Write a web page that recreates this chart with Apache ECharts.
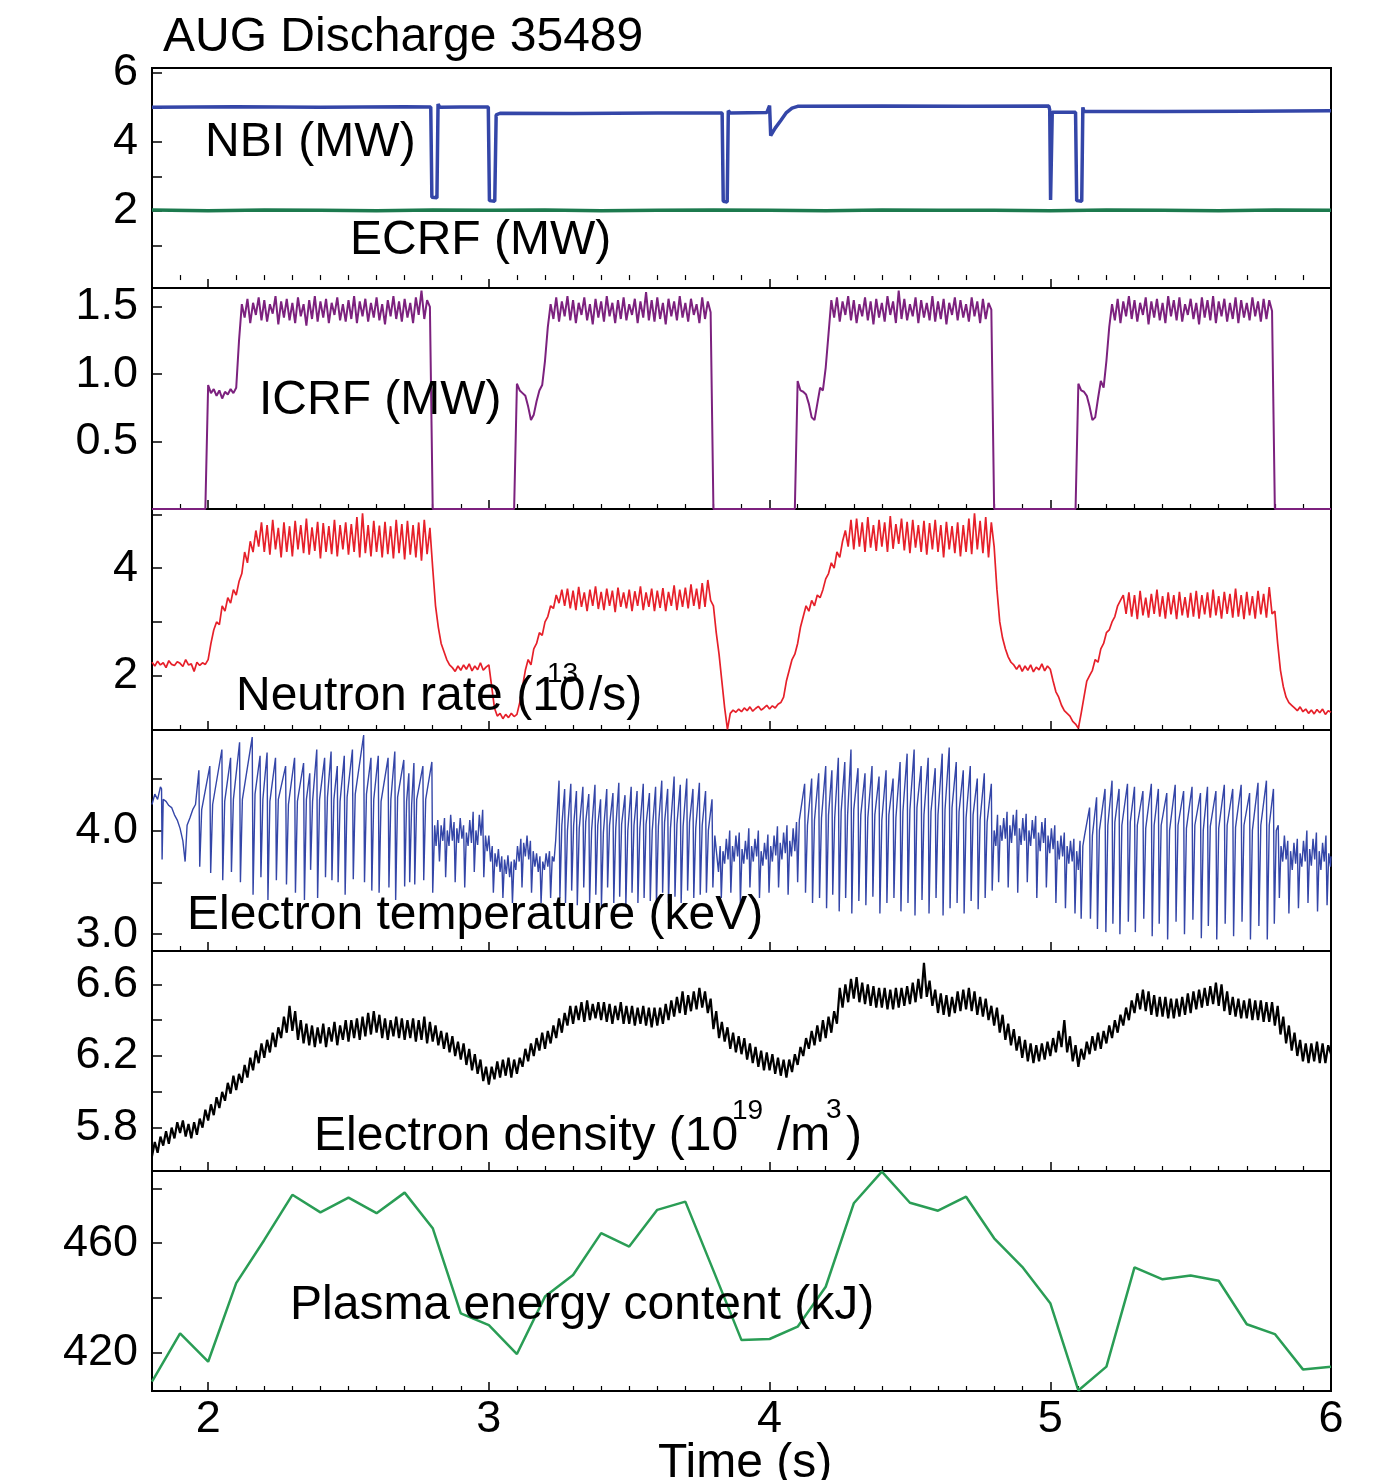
<!DOCTYPE html>
<html><head><meta charset="utf-8">
<script src="https://cdn.jsdelivr.net/npm/echarts@6/dist/echarts.min.js"></script>
<style>html,body{margin:0;padding:0;background:#fff}#c{width:1393px;height:1480px}</style>
</head><body><div id="c"></div><script>
// ---------- axes / ticks ----------
const TIME_MIN = 1.8, TIME_MAX = 6.0;
const TIME_TICKS = [2, 3, 4, 5, 6];
const TIME_MINOR = [1.9,2.1,2.2,2.3,2.4,2.5,2.6,2.7,2.8,2.9,3.1,3.2,3.3,3.4,3.5,3.6,3.7,3.8,3.9,4.1,4.2,4.3,4.4,4.5,4.6,4.7,4.8,4.9,5.1,5.2,5.3,5.4,5.5,5.6,5.7,5.8,5.9];
const NBI_TICKS = [1,2,3,4,5,6], NBI_LABELS = [2,4,6];
const ICRF_TICKS = [0.5,1.0,1.5], ICRF_LABELS = [0.5,1.0,1.5];
const NEUT_TICKS = [2,3,4,5], NEUT_LABELS = [2,4];
const TE_TICKS = [3.0,3.5,4.0,4.5], TE_LABELS = [3.0,4.0];
const NE_TICKS = [5.8,6.0,6.2,6.4,6.6], NE_LABELS = [5.8,6.2,6.6];
const W_TICKS = [420,440,460,480], W_LABELS = [420,460];

// ---------- heating powers ----------
const nbi = [[1.80,5.00],[2.10,5.02],[2.40,5.00],[2.70,5.02],[2.793,5.01],[2.797,2.40],[2.815,2.38],[2.819,5.10],[2.825,5.00],[2.90,5.01],[2.998,5.01],[3.002,2.30],[3.021,2.28],[3.026,4.78],[3.04,4.83],[3.30,4.82],[3.60,4.84],[3.831,4.84],[3.835,2.28],[3.849,2.26],[3.853,4.90],[3.86,4.84],[3.99,4.85],[4.000,5.05],[4.004,4.18],[4.02,4.40],[4.04,4.62],[4.06,4.85],[4.08,4.98],[4.10,5.03],[4.40,5.04],[4.70,5.03],[4.995,5.04],[4.998,4.92],[5.001,2.32],[5.004,2.32],[5.007,4.86],[5.09,4.86],[5.094,2.30],[5.112,2.28],[5.116,5.00],[5.12,4.88],[5.40,4.88],[5.70,4.89],[6.00,4.90]];
const ecrf = [[1.8,2.03],[2.0,2.01],[2.2,2.03],[2.4,2.02],[2.6,2.01],[2.8,2.03],[3.0,2.02],[3.2,2.03],[3.4,2.01],[3.6,2.02],[3.8,2.03],[4.0,2.02],[4.2,2.01],[4.4,2.03],[4.6,2.02],[4.8,2.02],[5.0,2.01],[5.2,2.03],[5.4,2.02],[5.6,2.01],[5.8,2.03],[6.0,2.02]];

// dense signals sampled every 0.01 s from 1.80 s
const DENSE_T0 = 1.8, DENSE_DT = 0.01;
const icrf = [
0,0,0,0,0,0,0,0,0,0,
0,0,0,0,0,0,0,0,0,0,
0.92,0.86,0.89,0.84,0.88,0.82,0.87,0.85,0.89,0.86,
0.90,1.25,1.52,1.42,1.56,1.38,1.53,1.44,1.57,1.40,
1.55,1.39,1.52,1.45,1.58,1.37,1.54,1.42,1.56,1.40,
1.53,1.38,1.57,1.43,1.52,1.36,1.55,1.41,1.58,1.39,
1.54,1.42,1.56,1.38,1.53,1.44,1.57,1.40,1.52,1.39,
1.55,1.41,1.58,1.38,1.54,1.43,1.56,1.39,1.53,1.42,
1.57,1.40,1.52,1.37,1.55,1.43,1.58,1.41,1.54,1.39,
1.56,1.42,1.53,1.38,1.57,1.44,1.62,1.41,1.55,1.50,
0,0,0,0,0,0,0,0,0,0,
0,0,0,0,0,0,0,0,0,0,
0,0,0,0,0,0,0,0,0,0,
0.93,0.88,0.86,0.84,0.76,0.66,0.70,0.80,0.88,0.92,
1.10,1.35,1.52,1.41,1.57,1.39,1.54,1.43,1.58,1.40,
1.55,1.38,1.53,1.44,1.57,1.40,1.52,1.37,1.56,1.42,
1.54,1.39,1.58,1.43,1.53,1.38,1.55,1.41,1.57,1.40,
1.52,1.44,1.56,1.38,1.54,1.42,1.61,1.40,1.55,1.39,
1.57,1.41,1.53,1.37,1.56,1.43,1.54,1.40,1.58,1.42,
1.53,1.39,1.56,1.44,1.52,1.38,1.57,1.41,1.54,1.46,
0,0,0,0,0,0,0,0,0,0,
0,0,0,0,0,0,0,0,0,0,
0,0,0,0,0,0,0,0,0,0,
0.95,0.88,0.87,0.85,0.78,0.68,0.66,0.78,0.90,0.88,
1.05,1.30,1.55,1.42,1.57,1.39,1.54,1.44,1.58,1.40,
1.55,1.38,1.52,1.43,1.57,1.40,1.54,1.37,1.56,1.42,
1.53,1.39,1.58,1.44,1.54,1.38,1.62,1.41,1.56,1.40,
1.52,1.43,1.57,1.38,1.55,1.42,1.53,1.40,1.58,1.39,
1.54,1.41,1.56,1.37,1.53,1.44,1.57,1.40,1.55,1.42,
1.52,1.39,1.57,1.43,1.54,1.38,1.56,1.41,1.53,1.48,
0,0,0,0,0,0,0,0,0,0,
0,0,0,0,0,0,0,0,0,0,
0,0,0,0,0,0,0,0,0,0,
0.93,0.88,0.87,0.84,0.76,0.66,0.68,0.82,0.95,0.90,
1.10,1.35,1.52,1.40,1.56,1.38,1.54,1.43,1.58,1.41,
1.55,1.39,1.53,1.44,1.57,1.37,1.54,1.42,1.56,1.40,
1.53,1.38,1.58,1.43,1.55,1.40,1.57,1.39,1.52,1.44,
1.56,1.41,1.53,1.37,1.57,1.42,1.55,1.40,1.58,1.38,
1.54,1.43,1.56,1.39,1.53,1.41,1.57,1.38,1.55,1.42,
1.53,1.40,1.57,1.43,1.54,1.39,1.56,1.41,1.55,1.47,
0,0,0,0,0,0,0,0,0,0,
0,0,0,0,0,0,0,0,0,0,
0];

const neutron = [
2.25,2.18,2.27,2.20,2.24,2.15,2.28,2.21,2.19,2.26,
2.23,2.17,2.30,2.20,2.22,2.08,2.25,2.19,2.24,2.21,
2.30,2.60,2.85,3.00,2.95,3.30,3.20,3.45,3.35,3.60,
3.50,3.75,3.90,4.30,4.10,4.50,4.30,4.70,4.40,4.85,
4.30,4.80,4.25,4.90,4.35,4.75,4.20,4.85,4.30,4.78,
4.22,4.88,4.35,4.80,4.28,4.92,4.25,4.76,4.32,4.86,
4.18,4.84,4.30,4.78,4.26,4.90,4.22,4.80,4.35,4.85,
4.25,4.82,4.30,4.95,4.20,5.02,4.28,4.80,4.22,4.88,
4.30,4.79,4.20,4.86,4.26,4.78,4.18,4.90,4.28,4.82,
4.16,4.88,4.25,4.80,4.20,4.85,4.14,4.90,4.26,4.75,
4.00,3.30,2.90,2.60,2.45,2.30,2.20,2.15,2.08,2.18,
2.10,2.20,2.12,2.22,2.09,2.18,2.11,2.24,2.10,2.16,
2.20,1.80,1.40,1.25,1.30,1.20,1.28,1.22,1.30,1.24,
1.28,1.50,1.80,2.10,2.30,2.20,2.50,2.60,2.80,2.75,
3.00,3.10,3.30,3.25,3.50,3.35,3.60,3.30,3.62,3.25,
3.58,3.22,3.65,3.28,3.55,3.20,3.60,3.30,3.66,3.24,
3.56,3.22,3.62,3.30,3.58,3.18,3.64,3.28,3.55,3.25,
3.60,3.20,3.57,3.30,3.66,3.22,3.55,3.28,3.62,3.20,
3.58,3.26,3.63,3.20,3.56,3.30,3.68,3.22,3.60,3.28,
3.64,3.25,3.70,3.30,3.62,3.24,3.72,3.28,3.78,3.40,
3.30,2.80,2.40,1.90,1.40,1.00,1.30,1.36,1.32,1.38,
1.33,1.40,1.35,1.42,1.34,1.39,1.43,1.36,1.40,1.45,
1.38,1.44,1.40,1.47,1.50,1.60,1.90,2.10,2.30,2.40,
2.60,2.90,3.10,3.30,3.20,3.40,3.30,3.50,3.45,3.60,
3.80,3.90,4.10,4.00,4.30,4.20,4.50,4.70,4.40,4.90,
4.35,4.92,4.40,4.85,4.30,4.95,4.38,4.80,4.32,4.90,
4.40,4.85,4.30,4.97,4.36,4.82,4.45,4.92,4.33,4.86,
4.28,4.90,4.38,4.80,4.30,4.88,4.25,4.84,4.35,4.90,
4.30,4.80,4.20,4.86,4.35,4.78,4.28,4.85,4.22,4.80,
4.30,4.92,4.26,5.02,4.35,4.88,4.28,4.95,4.20,4.85,
4.40,3.60,3.00,2.70,2.50,2.35,2.25,2.20,2.12,2.20,
2.08,2.18,2.10,2.20,2.07,2.16,2.11,2.22,2.09,2.18,
2.12,1.90,1.70,1.60,1.45,1.35,1.30,1.25,1.15,1.10,
1.02,1.30,1.60,1.90,2.00,2.10,2.30,2.25,2.50,2.60,
2.80,2.85,3.00,3.10,3.30,3.40,3.50,3.15,3.55,3.10,
3.50,3.05,3.58,3.12,3.45,3.08,3.52,3.15,3.60,3.10,
3.48,3.06,3.55,3.14,3.50,3.05,3.56,3.12,3.46,3.08,
3.54,3.10,3.58,3.06,3.50,3.14,3.55,3.08,3.60,3.12,
3.48,3.06,3.56,3.15,3.52,3.08,3.62,3.10,3.50,3.05,
3.56,3.12,3.48,3.06,3.58,3.14,3.52,3.08,3.65,3.15,
3.20,2.60,2.10,1.80,1.60,1.50,1.45,1.40,1.35,1.42,
1.33,1.38,1.30,1.36,1.29,1.37,1.31,1.38,1.28,1.35,
1.32];

const density = [
5.64,5.72,5.66,5.75,5.70,5.78,5.71,5.80,5.74,5.83,
5.77,5.84,5.75,5.82,5.74,5.83,5.76,5.85,5.80,5.90,
5.84,5.93,5.87,5.97,5.91,6.00,5.95,6.05,5.99,6.09,
6.01,6.10,6.05,6.15,6.08,6.19,6.12,6.23,6.16,6.27,
6.19,6.29,6.22,6.33,6.25,6.36,6.30,6.42,6.33,6.48,
6.34,6.45,6.29,6.40,6.27,6.38,6.26,6.37,6.25,6.36,
6.27,6.38,6.25,6.36,6.28,6.39,6.26,6.37,6.29,6.40,
6.28,6.40,6.30,6.41,6.29,6.42,6.31,6.44,6.32,6.45,
6.33,6.43,6.30,6.41,6.29,6.40,6.31,6.42,6.30,6.41,
6.29,6.40,6.30,6.41,6.28,6.40,6.29,6.42,6.27,6.39,
6.28,6.37,6.26,6.34,6.24,6.33,6.22,6.31,6.20,6.28,
6.18,6.27,6.15,6.24,6.12,6.21,6.10,6.18,6.06,6.14,
6.04,6.14,6.07,6.17,6.08,6.18,6.09,6.19,6.08,6.18,
6.10,6.19,6.14,6.24,6.17,6.27,6.20,6.30,6.23,6.33,
6.24,6.34,6.27,6.37,6.30,6.41,6.33,6.44,6.37,6.48,
6.38,6.48,6.40,6.50,6.39,6.51,6.40,6.49,6.41,6.50,
6.40,6.50,6.39,6.49,6.38,6.48,6.40,6.50,6.38,6.48,
6.38,6.48,6.37,6.47,6.38,6.48,6.37,6.47,6.36,6.47,
6.37,6.47,6.38,6.49,6.40,6.51,6.42,6.53,6.44,6.56,
6.43,6.54,6.45,6.56,6.46,6.58,6.47,6.56,6.44,6.52,
6.35,6.45,6.30,6.39,6.28,6.36,6.24,6.33,6.22,6.31,
6.21,6.30,6.18,6.27,6.16,6.25,6.14,6.23,6.12,6.22,
6.12,6.21,6.10,6.19,6.09,6.18,6.08,6.18,6.11,6.21,
6.15,6.25,6.20,6.30,6.24,6.34,6.26,6.37,6.28,6.40,
6.30,6.42,6.33,6.45,6.38,6.58,6.47,6.60,6.50,6.63,
6.52,6.64,6.50,6.61,6.49,6.60,6.48,6.59,6.47,6.58,
6.47,6.58,6.46,6.57,6.46,6.58,6.47,6.58,6.48,6.59,
6.49,6.61,6.50,6.63,6.52,6.72,6.53,6.62,6.48,6.57,
6.44,6.55,6.43,6.54,6.42,6.53,6.44,6.56,6.45,6.57,
6.46,6.58,6.45,6.56,6.43,6.53,6.42,6.52,6.40,6.48,
6.37,6.47,6.33,6.43,6.29,6.38,6.26,6.35,6.23,6.31,
6.19,6.29,6.17,6.27,6.16,6.26,6.17,6.27,6.18,6.28,
6.20,6.30,6.22,6.34,6.25,6.40,6.22,6.31,6.17,6.26,
6.14,6.24,6.18,6.28,6.21,6.31,6.23,6.33,6.24,6.34,
6.27,6.37,6.30,6.40,6.33,6.43,6.37,6.47,6.40,6.51,
6.44,6.55,6.46,6.57,6.45,6.56,6.43,6.54,6.42,6.53,
6.42,6.53,6.41,6.52,6.41,6.52,6.42,6.53,6.43,6.55,
6.44,6.56,6.46,6.57,6.47,6.58,6.48,6.59,6.49,6.61,
6.48,6.60,6.45,6.56,6.43,6.53,6.42,6.52,6.41,6.51,
6.41,6.52,6.40,6.51,6.40,6.51,6.39,6.50,6.39,6.50,
6.37,6.48,6.32,6.42,6.27,6.37,6.23,6.33,6.20,6.29,
6.17,6.27,6.16,6.27,6.17,6.28,6.16,6.27,6.16,6.26,
6.21];

// ---------- electron temperature ----------
// free segments [t, keV]
const teStart = [[1.800,4.25],[1.810,4.35],[1.820,4.30],[1.830,4.42],[1.834,4.40],[1.836,3.72],[1.840,4.30],[1.850,4.28],[1.860,4.24],[1.870,4.22],[1.880,4.15],[1.890,4.10],[1.900,4.02],[1.910,3.90],[1.918,3.70],[1.925,4.05],[1.935,4.12],[1.945,4.20],[1.955,4.25]];
const teLow1 = [[2.812,3.85],[2.818,4.10],[2.824,3.70],[2.830,4.05],[2.836,3.90],[2.842,4.12],[2.846,3.55],[2.852,4.00],[2.858,3.85],[2.864,4.15],[2.870,3.90],[2.876,4.08],[2.880,3.50],[2.886,4.02],[2.892,3.88],[2.898,4.12],[2.904,3.92],[2.910,4.05],[2.914,3.45],[2.920,3.98],[2.926,3.85],[2.932,4.10],[2.938,3.88],[2.944,4.18],[2.948,3.60],[2.954,4.00],[2.960,3.86],[2.966,4.15],[2.972,3.95],[2.978,4.20],[2.982,3.55],[2.988,3.95],[2.994,3.80],[3.000,3.95],[3.006,3.70],[3.012,3.85],[3.016,3.40],[3.022,3.78],[3.028,3.65],[3.034,3.82],[3.040,3.60],[3.046,3.75],[3.050,3.35],[3.056,3.72],[3.062,3.58],[3.068,3.76],[3.074,3.55],[3.080,3.70],[3.084,3.30],[3.090,3.72],[3.096,3.62],[3.102,3.85],[3.108,3.70],[3.114,3.92],[3.118,3.45],[3.124,3.88],[3.130,3.75],[3.136,3.95],[3.142,3.72],[3.148,3.90],[3.152,3.40],[3.158,3.80],[3.164,3.65],[3.170,3.78],[3.176,3.60],[3.182,3.75],[3.186,3.30],[3.192,3.70],[3.198,3.62],[3.204,3.78],[3.210,3.65],[3.216,3.80],[3.220,3.35],[3.226,3.75],[3.232,3.70],[3.238,3.90]];
const teLow2 = [[3.812,3.95],[3.818,3.60],[3.824,3.85],[3.828,3.35],[3.834,3.80],[3.840,3.68],[3.846,3.92],[3.852,3.72],[3.858,4.00],[3.862,3.40],[3.868,3.85],[3.874,3.70],[3.880,3.95],[3.886,3.75],[3.892,3.98],[3.896,3.30],[3.902,3.82],[3.908,3.68],[3.914,3.90],[3.920,3.72],[3.926,4.02],[3.930,3.45],[3.936,3.85],[3.942,3.70],[3.948,3.92],[3.954,3.75],[3.960,4.00],[3.964,3.35],[3.970,3.80],[3.976,3.66],[3.982,3.88],[3.988,3.72],[3.994,3.96],[3.998,3.40],[4.004,3.85],[4.010,3.70],[4.016,3.95],[4.022,3.76],[4.028,4.04],[4.032,3.45],[4.038,3.88],[4.044,3.72],[4.050,3.98],[4.056,3.78],[4.062,4.05],[4.066,3.38],[4.072,3.90],[4.078,3.75],[4.084,4.02],[4.090,3.80],[4.096,4.08],[4.100,3.50],[4.106,4.10]];
const teLow3 = [[4.806,3.85],[4.812,4.15],[4.816,3.50],[4.822,4.05],[4.828,3.90],[4.834,4.12],[4.840,3.92],[4.846,4.18],[4.850,3.45],[4.856,4.05],[4.862,3.88],[4.868,4.15],[4.874,3.95],[4.880,4.20],[4.884,3.40],[4.890,4.02],[4.896,3.86],[4.902,4.12],[4.908,3.90],[4.914,4.16],[4.918,3.50],[4.924,4.00],[4.930,3.85],[4.936,4.10],[4.942,3.92],[4.948,4.14],[4.952,3.35],[4.958,3.98],[4.964,3.80],[4.970,4.08],[4.976,3.88],[4.982,4.12],[4.986,3.45],[4.992,3.95],[4.998,3.78],[5.004,4.02],[5.010,3.82],[5.016,4.05],[5.020,3.30],[5.026,3.90],[5.032,3.72],[5.038,3.95],[5.044,3.75],[5.050,3.98],[5.054,3.25],[5.060,3.85],[5.066,3.68],[5.072,3.90],[5.078,3.70],[5.084,3.92],[5.088,3.20],[5.094,3.80],[5.100,3.62],[5.106,3.90],[5.110,3.15],[5.116,3.85],[5.122,3.95]];
const teLow4 = [[5.812,4.05],[5.816,3.35],[5.822,3.85],[5.828,3.70],[5.834,3.95],[5.840,3.72],[5.846,3.90],[5.850,3.20],[5.856,3.80],[5.862,3.62],[5.868,3.88],[5.874,3.68],[5.880,3.92],[5.884,3.25],[5.890,3.78],[5.896,3.65],[5.902,3.90],[5.908,3.70],[5.914,4.00],[5.918,3.30],[5.924,3.82],[5.930,3.66],[5.936,3.92],[5.942,3.72],[5.948,3.98],[5.952,3.22],[5.958,3.80],[5.964,3.62],[5.970,3.88],[5.976,3.70],[5.982,3.95],[5.986,3.28],[5.992,3.78],[5.998,3.65],[6.000,3.75]];
// sawtooth crashes: [crash time, peak, post-crash minimum, recovered level]
const teethA = [[1.967,4.58,3.65,4.20],[2.006,4.62,3.59,4.25],[2.049,4.78,3.52,4.28],[2.080,4.70,3.60,4.30],[2.112,4.85,3.50,4.30],[2.157,4.90,3.38,4.35],[2.185,4.72,3.55,4.30],[2.210,4.75,3.33,4.28],[2.240,4.70,3.52,4.30],[2.276,4.62,3.48,4.25],[2.308,4.70,3.40,4.28],[2.340,4.65,3.33,4.30],[2.362,4.55,3.62,4.28],[2.387,4.78,3.35,4.30],[2.415,4.70,3.55,4.32],[2.438,4.76,3.52,4.30],[2.460,4.62,3.50,4.28],[2.485,4.72,3.38,4.32],[2.514,4.78,3.53,4.35],[2.554,4.92,3.50,4.35],[2.580,4.70,3.42,4.30],[2.606,4.72,3.40,4.28],[2.641,4.70,3.45,4.30],[2.665,4.76,3.33,4.32],[2.697,4.68,3.46,4.28],[2.715,4.55,3.50,4.25],[2.733,4.65,3.48,4.30],[2.765,4.62,3.52,4.30],[2.797,4.66,3.40,4.05]];
const teethB = [[3.250,4.48,3.35,4.05],[3.270,4.40,3.30,4.00],[3.292,4.45,3.42,4.05],[3.312,4.38,3.28,4.02],[3.335,4.42,3.45,4.08],[3.356,4.35,3.30,4.00],[3.378,4.44,3.38,4.05],[3.398,4.30,3.27,3.98],[3.420,4.40,3.45,4.05],[3.442,4.36,3.30,4.02],[3.463,4.46,3.36,4.06],[3.485,4.34,3.28,4.00],[3.507,4.42,3.40,4.05],[3.528,4.38,3.30,4.02],[3.550,4.45,3.35,4.06],[3.572,4.36,3.32,4.00],[3.594,4.42,3.28,4.04],[3.616,4.48,3.40,4.08],[3.637,4.40,3.30,4.02],[3.660,4.52,3.36,4.06],[3.682,4.44,3.30,4.04],[3.705,4.50,3.42,4.08],[3.727,4.40,3.35,4.02],[3.750,4.46,3.38,4.05],[3.772,4.38,3.40,4.00],[3.795,4.30,3.45,3.95]];
const teethC = [[4.125,4.45,3.40,4.05],[4.150,4.50,3.30,4.10],[4.175,4.55,3.35,4.12],[4.200,4.62,3.25,4.15],[4.222,4.58,3.38,4.12],[4.245,4.70,3.22,4.18],[4.268,4.66,3.35,4.15],[4.290,4.78,3.20,4.20],[4.315,4.60,3.32,4.15],[4.340,4.55,3.28,4.12],[4.365,4.62,3.36,4.15],[4.390,4.52,3.20,4.10],[4.415,4.58,3.30,4.15],[4.440,4.50,3.35,4.12],[4.465,4.66,3.22,4.18],[4.490,4.74,3.30,4.20],[4.515,4.78,3.18,4.22],[4.540,4.62,3.33,4.15],[4.565,4.70,3.20,4.18],[4.590,4.60,3.35,4.15],[4.615,4.74,3.18,4.20],[4.640,4.80,3.25,4.22],[4.665,4.66,3.30,4.18],[4.690,4.58,3.20,4.12],[4.715,4.62,3.32,4.15],[4.740,4.50,3.24,4.10],[4.765,4.55,3.35,4.08],[4.790,4.45,3.42,4.00]];
const teethD = [[5.140,4.22,3.15,3.95],[5.165,4.32,3.05,4.00],[5.195,4.40,3.02,4.05],[5.220,4.48,3.10,4.08],[5.245,4.40,3.00,4.05],[5.275,4.45,3.12,4.08],[5.300,4.42,3.02,4.05],[5.330,4.38,3.15,4.02],[5.360,4.45,2.98,4.05],[5.385,4.40,3.10,4.05],[5.415,4.36,2.95,4.00],[5.445,4.44,3.12,4.05],[5.475,4.38,3.00,4.02],[5.505,4.42,3.14,4.05],[5.535,4.36,2.96,4.00],[5.560,4.42,3.08,4.04],[5.590,4.38,2.95,4.02],[5.620,4.44,3.10,4.05],[5.650,4.40,2.98,4.03],[5.680,4.44,3.12,4.05],[5.710,4.36,2.95,4.00],[5.740,4.46,3.08,4.05],[5.770,4.48,2.95,4.05],[5.795,4.40,3.10,4.00]];

// ---------- plasma energy content, every 0.1 s from 1.8 s ----------
const W_T0 = 1.8, W_DT = 0.1;
const wmhd = [409.4,427.1,416.7,445.4,461.2,477.7,471.3,476.7,471.0,478.5,465.5,434.4,430.1,419.5,440.5,448.4,463.7,458.8,472.2,475.2,450.0,424.6,425.0,429.5,444.1,474.6,486.2,474.8,471.9,477.0,461.8,451.4,438.1,406.2,414.9,451.2,446.8,448.2,446.3,430.4,426.8,413.9,414.9];

// ---------- build point lists ----------
const r3 = v => Math.round(v * 1000) / 1000;
const densePairs = vals => vals.map((v, i) => [r3(DENSE_T0 + i * DENSE_DT), v]);
const wPairs = wmhd.map((v, i) => [r3(W_T0 + i * W_DT), v]);
const crashPts = rows => rows.flatMap(([t, p, lo, rec]) => [[t, p], [r3(t + 0.003), lo], [r3(t + 0.010), rec]]);
const tePairs = [].concat(teStart, crashPts(teethA), teLow1, crashPts(teethB), teLow2, crashPts(teethC), teLow3, crashPts(teethD), teLow4);

const FONT = 'Liberation Sans';
const tops = [68, 288, 509, 730, 951, 1171];
const heights = [220, 221, 221, 221, 220, 220];
const yCfg = [
  {min:-0.23, max:6.14, ticks:NBI_TICKS, labels:NBI_LABELS, dec:0},
  {min:0, max:1.64, ticks:ICRF_TICKS, labels:ICRF_LABELS, dec:1},
  {min:0.99, max:5.10, ticks:NEUT_TICKS, labels:NEUT_LABELS, dec:0},
  {min:2.838, max:4.968, ticks:TE_TICKS, labels:TE_LABELS, dec:1},
  {min:5.558, max:6.786, ticks:NE_TICKS, labels:NE_LABELS, dec:1},
  {min:406, max:486.4, ticks:W_TICKS, labels:W_LABELS, dec:0}
];

const grid = [], xAxis = [], yAxis = [];
for (let i = 0; i < 6; i++) {
  grid.push({left:152, width:1179, top:tops[i], height:heights[i], show:true, borderColor:'#000', borderWidth:2, backgroundColor:'transparent'});
  xAxis.push({type:'value', gridIndex:i, min:TIME_MIN, max:TIME_MAX, position:'bottom',
    axisLine:{show:true, onZero:false, lineStyle:{color:'#000', width:2}},
    axisTick:{show:true, inside:true, length:9, customValues:TIME_TICKS, lineStyle:{color:'#000', width:1.5}},
    axisLabel:{show:i === 5, customValues:TIME_TICKS, fontSize:45, fontFamily:FONT, color:'#000', margin:6},
    splitLine:{show:false}});
  xAxis.push({type:'value', gridIndex:i, min:TIME_MIN, max:TIME_MAX, position:'bottom',
    axisLine:{show:false},
    axisTick:{show:true, inside:true, length:5, customValues:TIME_MINOR, lineStyle:{color:'#000', width:1.2}},
    axisLabel:{show:false}, splitLine:{show:false}});
  const c = yCfg[i];
  yAxis.push({type:'value', gridIndex:i, min:c.min, max:c.max, position:'left',
    axisLine:{show:true, onZero:false, lineStyle:{color:'#000', width:2}},
    axisTick:{show:true, inside:true, length:10, customValues:c.ticks, lineStyle:{color:'#000', width:1.5}},
    axisLabel:{show:true, customValues:c.labels, fontSize:45, fontFamily:FONT, color:'#000', margin:14,
      formatter: v => Number(v).toFixed(c.dec)},
    splitLine:{show:false}});
}

const line = (gi, data, color, width) => ({type:'line', xAxisIndex:gi * 2, yAxisIndex:gi, data, symbol:'none', showSymbol:false,
  lineStyle:{color, width, join:'bevel'}, itemStyle:{color}, clip:true, animation:false, silent:true});

const series = [
  line(0, nbi, '#3446a8', 3.5),
  line(0, ecrf, '#1c7a4e', 3.5),
  line(1, densePairs(icrf), '#7c217e', 2.0),
  line(2, densePairs(neutron), '#e6202a', 1.7),
  line(3, tePairs, '#3446a8', 1.4),
  line(4, densePairs(density), '#000000', 2.2),
  line(5, wPairs, '#2a9d55', 2.5)
];

const txt = (text, x, y, size) => ({type:'text', x, y, z:100,
  style:{text, font:(size || 48) + 'px "' + FONT + '"', fill:'#000', align:'left', verticalAlign:'middle'}});

const graphic = [
  txt('AUG Discharge 35489', 163, 38),
  txt('NBI (MW)', 205, 143),
  txt('ECRF (MW)', 350, 241),
  txt('ICRF (MW)', 259, 401),
  txt('Neutron rate (10', 236, 697),
  txt('13', 547, 674, 28),
  txt('/s)', 589, 697),
  txt('Electron temperature (keV)', 187, 916),
  txt('Electron density (10', 314, 1137),
  txt('19', 732, 1111, 28),
  txt('/m', 777, 1137),
  txt('3', 826, 1110, 28),
  txt(')', 846, 1137),
  txt('Plasma energy content (kJ)', 290, 1306),
  txt('Time (s)', 658, 1464)
];

const chart = echarts.init(document.getElementById('c'), null, {renderer:'canvas'});
chart.setOption({animation:false, backgroundColor:'#fff', grid, xAxis, yAxis, series, graphic});
</script></body></html>
